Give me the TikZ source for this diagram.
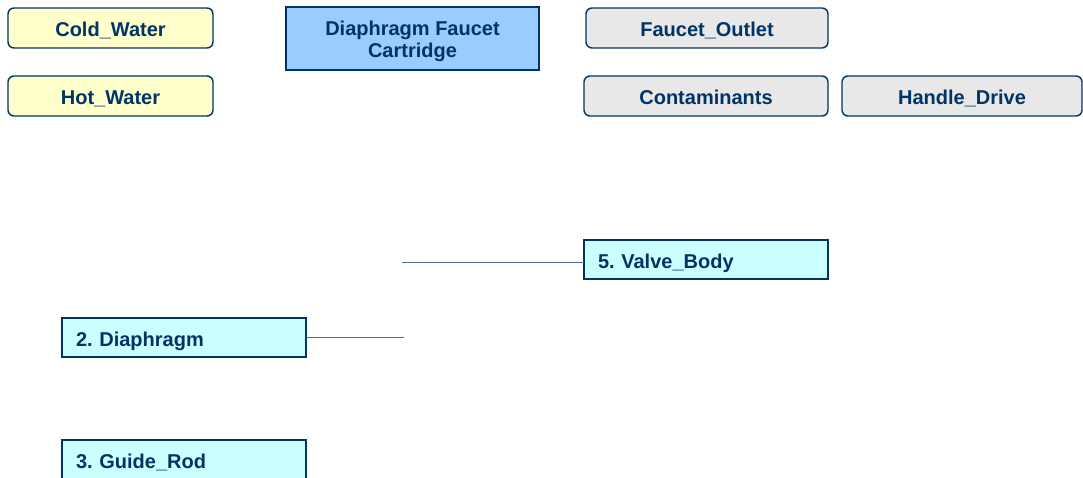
\documentclass[tikz,border=0pt]{standalone}
\usepackage{fontspec}
\setmainfont{Liberation Sans}
\definecolor{ink}{HTML}{003366}
\definecolor{yel}{HTML}{FFFFCC}
\definecolor{blu}{HTML}{99CCFF}
\definecolor{cya}{HTML}{CCFFFF}
\definecolor{gry}{HTML}{E8E8E8}
\definecolor{lin}{HTML}{4A6A9A}
\tikzset{
  base/.style={draw=ink, text=ink, font=\fontsize{20}{22.5}\selectfont\bfseries\frenchspacing, inner sep=0pt, outer sep=0pt},
  oneline/.style={text height=17pt, text depth=0pt},
  ext/.style={base, oneline, rounded corners=6pt, line width=1.4pt, minimum height=40pt},
  inbox/.style={ext, fill=yel},
  outbox/.style={ext, fill=gry},
  titlebox/.style={base, fill=blu, line width=2.4pt, align=center},
  partbox/.style={base, oneline, fill=cya, line width=2.6pt, minimum height=39pt, text width=216pt, inner xsep=14pt, align=left},
  conn/.style={draw=lin, line width=1pt}
}
\begin{document}
\begin{tikzpicture}[x=1pt,y=-1pt]
\useasboundingbox (0,0) rectangle (1083,478);
\node[inbox, minimum width=205pt] (cold) at (110.5,28) {Cold\_Water};
\node[inbox, minimum width=205pt] (hot) at (110.5,96) {Hot\_Water};
\node[titlebox, minimum width=253pt, minimum height=63pt] (title) at (412.5,38.5) {\rule{0pt}{20pt}Diaphragm Faucet\\Cartridge};
\node[outbox, minimum width=242pt] (outlet) at (707,28) {Faucet\_Outlet};
\node[outbox, minimum width=244pt] (cont) at (706,96) {Contaminants};
\node[outbox, minimum width=240pt] (handle) at (962,96) {Handle\_Drive};
\node[partbox] (valve) at (706,259.5) {5. Valve\_Body};
\node[partbox] (dia) at (184,337.5) {2. Diaphragm};
\node[partbox] (guide) at (184,459.5) {3. Guide\_Rod};
\coordinate (c1) at (402,262);
\coordinate (c2) at (404,337.5);
\draw[conn] (c1) -- (valve.west |- c1);
\draw[conn] (dia.east) -- (c2);
\end{tikzpicture}
\end{document}
